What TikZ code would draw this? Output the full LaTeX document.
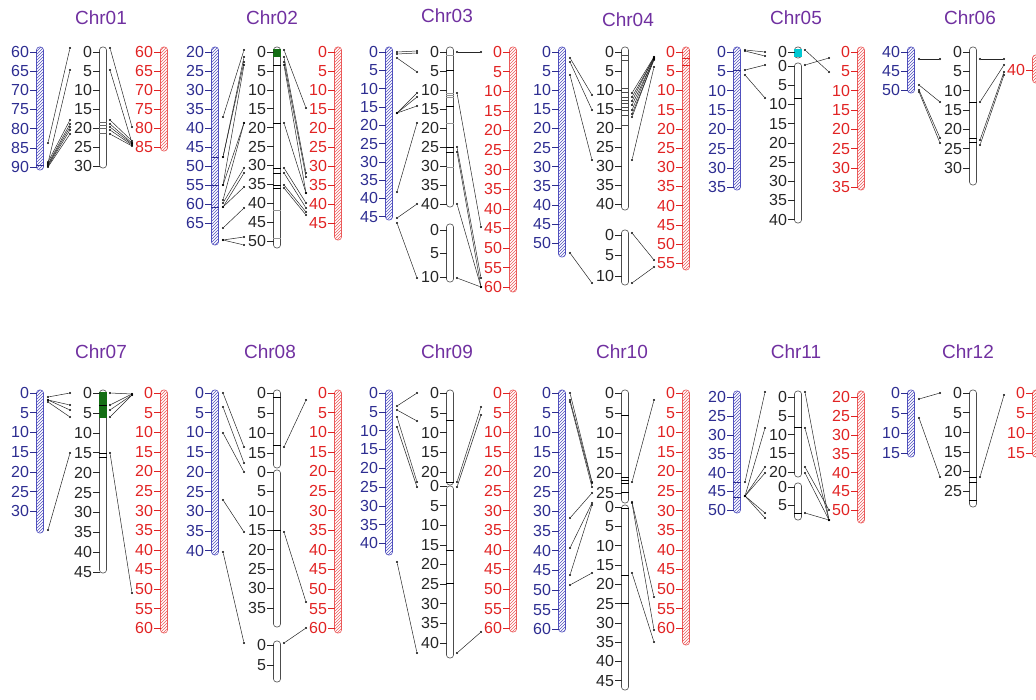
\documentclass[tikz,border=0pt]{standalone}
\usepackage{fontspec}
\setmainfont{Liberation Sans}
\usepackage{xcolor}
\usepackage{tikz}
\usetikzlibrary{patterns}
\definecolor{chrpurple}{RGB}{112,48,160}
\definecolor{mapblue}{RGB}{45,45,145}
\definecolor{hatchblue}{RGB}{80,80,190}
\definecolor{mapred}{RGB}{225,35,35}
\definecolor{hatchred}{RGB}{235,90,90}
\definecolor{bandgray}{RGB}{150,150,150}
\definecolor{cengreen}{RGB}{20,110,20}
\definecolor{cencyan}{RGB}{0,200,210}

\newcount\lnkno
% labels + ticks left of a bar: name, x, y of first label, first, last, px per 5
\newcommand\scalelabels[7]{%
  \pgfmathtruncatemacro\nlab{(#5-#4)/5}%
  \foreach \k in {0,...,\nlab}{%
    \pgfmathtruncatemacro\vlab{#4+5*\k}%
    \pgfmathsetmacro\ylab{#3+\k*#6}%
    \node[num, text=#7] (#1-\k) at (#2-10,\ylab) {\vlab};
    \draw[#7, line width=0.5pt] (#1-\k.east) -- (#2-3,\ylab);
  }}
% a bar: name, style, x, top, bottom
\newcommand\chrbar[5]{%
  \node[#2, minimum height={(#5-#4)*1pt}] (#1) at (#3,{(#4+#5)/2}) {};}
\newcommand\chrband[3][black]{%
  \draw[#1, line width=0.6pt] (#2.west |- 0,#3) -- (#2.east |- 0,#3);}
\newcommand\chrlink[4]{%
  \global\advance\lnkno by 1
  \node[dot] (d\the\lnkno a) at (#1,#2) {};
  \node[dot] (d\the\lnkno b) at (#3,#4) {};
  \draw[conn] (d\the\lnkno a) -- (d\the\lnkno b);}
\newcommand\lnkL[2]{\chrlink{\bx+8}{#1}{\mx-33}{#2}}
\newcommand\lnkR[2]{\chrlink{\mx+7}{#1}{\rx-32}{#2}}

\begin{document}
\begin{tikzpicture}[x=1pt, y=-1pt,
  num/.style={font=\fontsize{16}{16}\selectfont, anchor=east, inner sep=0.8pt},
  title/.style={font=\fontsize{19}{19}\selectfont, text=chrpurple},
  bluebar/.style={draw=hatchblue, pattern=north east lines, pattern color=hatchblue,
                  rounded corners=3pt, minimum width=7pt, inner sep=0pt, line width=0.6pt},
  redbar/.style={draw=hatchred, pattern=north east lines, pattern color=hatchred,
                 rounded corners=3pt, minimum width=7pt, inner sep=0pt, line width=0.6pt},
  midbar/.style={draw=black!70, fill=white, rounded corners=3pt,
                 minimum width=7pt, inner sep=0pt, line width=0.6pt},
  dot/.style={circle, fill=black, inner sep=0pt, minimum size=2.4pt},
  conn/.style={black!85, line width=0.5pt}
]
\useasboundingbox (0,0) rectangle (1036,700);
\clip (0,0) rectangle (1036,700);

% ---------- Chr01
\def\bx{40}\def\mx{103}\def\rx{164}
\node[title] (t1) at (101,18) {Chr01};
\chrbar{b1}{bluebar}{\bx}{47}{170}
\scalelabels{bl1}{\bx}{52}{60}{90}{19.17}{mapblue}
\chrband[mapblue]{b1}{165}
\chrbar{m1}{midbar}{\mx}{47}{168}
\scalelabels{ml1}{\mx}{52}{0}{30}{19}{black!85}
\foreach \y in {122,125,128,133} {\chrband[black!60]{m1}{\y}}
\chrbar{r1}{redbar}{\rx}{47}{151}
\scalelabels{rl1}{\rx}{52}{60}{85}{19}{mapred}
\lnkL{143}{48} \lnkL{163}{70} \lnkL{162}{120} \lnkL{164}{124}
\lnkL{165}{127} \lnkL{166}{130} \lnkL{167}{134}
\lnkR{48}{127} \lnkR{70}{143} \lnkR{120}{141} \lnkR{124}{143}
\lnkR{127}{144} \lnkR{130}{145} \lnkR{134}{146}

% ---------- Chr02
\def\bx{215}\def\mx{277}\def\rx{338}
\node[title] (t2) at (272,18) {Chr02};
\chrbar{b2}{bluebar}{\bx}{47}{245}
\scalelabels{bl2}{\bx}{52}{20}{65}{19}{mapblue}
\foreach \y in {157,185,207} {\chrband[mapblue]{b2}{\y}}
\chrbar{m2}{midbar}{\mx}{47}{248}
\fill[cengreen] (m2.west |- 0,49) rectangle (m2.east |- 0,57);
\scalelabels{ml2}{\mx}{52}{0}{50}{18.9}{black!85}
\foreach \y in {65,123,168,173,185,188} {\chrband{m2}{\y}}
\foreach \y in {210,238} {\chrband[bandgray]{m2}{\y}}
\chrbar{r2}{redbar}{\rx}{47}{240}
\scalelabels{rl2}{\rx}{52}{0}{45}{19}{mapred}
\lnkL{117}{50} \lnkL{157}{57} \lnkL{157}{62} \lnkL{185}{65}
\lnkL{185}{123} \lnkL{200}{123} \lnkL{203}{168} \lnkL{207}{173}
\lnkL{207}{187} \lnkL{228}{208} \lnkL{240}{237} \lnkL{240}{245}
\lnkR{50}{108} \lnkR{57}{173} \lnkR{62}{177} \lnkR{65}{193}
\lnkR{123}{193} \lnkR{168}{203} \lnkR{173}{208} \lnkR{185}{212}
\lnkR{188}{215}

% ---------- Chr03
\def\bx{389}\def\mx{450}\def\rx{513}
\node[title] (t3) at (447,16) {Chr03};
\chrbar{b3}{bluebar}{\bx}{47}{220}
\scalelabels{bl3}{\bx}{52}{0}{45}{18.3}{mapblue}
\chrbar{m3a}{midbar}{\mx}{47}{207}
\scalelabels{ml3a}{\mx}{52}{0}{40}{19}{black!85}
\foreach \y in {55,93,95,97,123,167} {\chrband[bandgray]{m3a}{\y}}
\foreach \y in {70,106,147,152} {\chrband{m3a}{\y}}
\chrbar{m3b}{midbar}{\mx}{224}{282}
\scalelabels{ml3b}{\mx}{230}{0}{10}{23.5}{black!85}
\chrbar{r3}{redbar}{\rx}{47}{292}
\scalelabels{rl3}{\rx}{52}{0}{60}{19.6}{mapred}
\lnkL{52}{51} \lnkL{54}{53} \lnkL{58}{72} \lnkL{113}{93}
\lnkL{113}{97} \lnkL{113}{106} \lnkL{192}{123} \lnkL{218}{204}
\lnkL{223}{278}
\lnkR{52}{52} \lnkR{93}{227} \lnkR{147}{278} \lnkR{152}{287}
\lnkR{204}{287} \lnkR{278}{287}

% ---------- Chr04
\def\bx{562}\def\mx{625}\def\rx{686}
\node[title] (t4) at (628,20) {Chr04};
\chrbar{b4}{bluebar}{\bx}{47}{257}
\scalelabels{bl4}{\bx}{52}{0}{50}{19.1}{mapblue}
\chrbar{m4a}{midbar}{\mx}{47}{210}
\scalelabels{ml4a}{\mx}{52}{0}{40}{19}{black!85}
\foreach \y in {55,60,88,92,97,100,103,107,110,115,125} {\chrband[black!70]{m4a}{\y}}
\chrbar{m4b}{midbar}{\mx}{230}{285}
\scalelabels{ml4b}{\mx}{235}{0}{10}{20.5}{black!85}
\chrbar{r4}{redbar}{\rx}{47}{270}
\scalelabels{rl4}{\rx}{52}{0}{55}{19.2}{mapred}
\foreach \y in {58,65} {\chrband[mapred]{r4}{\y}}
\lnkL{58}{95} \lnkL{62}{110} \lnkL{75}{160} \lnkL{253}{283}
\lnkR{93}{57} \lnkR{97}{58} \lnkR{101}{57} \lnkR{105}{59}
\lnkR{110}{58} \lnkR{114}{60} \lnkR{117}{59} \lnkR{160}{67}
\lnkR{233}{260} \lnkR{283}{267}

% ---------- Chr05
\def\bx{737}\def\mx{798}\def\rx{861}
\node[title] (t5) at (796,18) {Chr05};
\chrbar{b5}{bluebar}{\bx}{47}{190}
\scalelabels{bl5}{\bx}{52}{0}{35}{19.3}{mapblue}
\chrband[mapblue]{b5}{70}
\chrbar{m5a}{midbar}{\mx}{47}{58}
\fill[cencyan] (m5a.west |- 0,49) rectangle (m5a.east |- 0,57);
\scalelabels{ml5a}{\mx}{52}{0}{0}{19}{black!85}
\chrbar{m5b}{midbar}{\mx}{63}{223}
\scalelabels{ml5b}{\mx}{66}{0}{40}{19.2}{black!85}
\chrband{m5b}{98}
\chrbar{r5}{redbar}{\rx}{47}{190}
\scalelabels{rl5}{\rx}{52}{0}{35}{19.3}{mapred}
\lnkL{50}{52} \lnkL{51}{56} \lnkL{70}{65} \lnkL{75}{98}
\lnkR{50}{72} \lnkR{65}{58}

% ---------- Chr06
\def\bx{911}\def\mx{973}\def\rx{1036}
\node[title] (t6) at (970,18) {Chr06};
\chrbar{b6}{bluebar}{\bx}{47}{93}
\scalelabels{bl6}{\bx}{52}{40}{50}{19}{mapblue}
\chrbar{m6}{midbar}{\mx}{47}{185}
\scalelabels{ml6}{\mx}{52}{0}{30}{19.3}{black!85}
\foreach \y in {102,138,142} {\chrband{m6}{\y}}
\chrbar{r6}{redbar}{\rx}{55}{83}
\scalelabels{rl6}{\rx}{70}{40}{40}{19}{mapred}
\lnkL{59}{59} \lnkL{85}{102} \lnkL{90}{138} \lnkL{92}{143}
\lnkR{59}{59} \lnkR{102}{65} \lnkR{140}{72} \lnkR{145}{75}

% ---------- Chr07
\def\bx{40}\def\mx{103}\def\rx{164}
\node[title] (t7) at (101,352) {Chr07};
\chrbar{b7}{bluebar}{\bx}{390}{533}
\scalelabels{bl7}{\bx}{393}{0}{30}{19.7}{mapblue}
\chrbar{m7}{midbar}{\mx}{390}{573}
\fill[cengreen] (m7.west |- 0,392) rectangle (m7.east |- 0,418);
\scalelabels{ml7}{\mx}{393}{0}{45}{19.9}{black!85}
\foreach \y in {405,453,457} {\chrband{m7}{\y}}
\chrbar{r7}{redbar}{\rx}{390}{633}
\scalelabels{rl7}{\rx}{393}{0}{60}{19.6}{mapred}
\lnkL{397}{393} \lnkL{400}{405} \lnkL{400}{410} \lnkL{402}{417}
\lnkL{530}{453}
\lnkR{393}{394} \lnkR{405}{394} \lnkR{410}{395} \lnkR{417}{395}
\lnkR{453}{593}

% ---------- Chr08
\def\bx{215}\def\mx{277}\def\rx{338}
\node[title] (t8) at (270,352) {Chr08};
\chrbar{b8}{bluebar}{\bx}{390}{555}
\scalelabels{bl8}{\bx}{393}{0}{40}{19.7}{mapblue}
\chrbar{m8a}{midbar}{\mx}{390}{468}
\scalelabels{ml8a}{\mx}{393}{0}{15}{20}{black!85}
\foreach \y in {397,445} {\chrband{m8a}{\y}}
\chrbar{m8b}{midbar}{\mx}{470}{627}
\scalelabels{ml8b}{\mx}{472}{0}{35}{19.4}{black!85}
\chrband{m8b}{530}
\chrbar{m8c}{midbar}{\mx}{641}{682}
\scalelabels{ml8c}{\mx}{645}{0}{5}{20}{black!85}
\chrbar{r8}{redbar}{\rx}{390}{633}
\scalelabels{rl8}{\rx}{393}{0}{60}{19.6}{mapred}
\lnkL{393}{447} \lnkL{407}{463} \lnkL{433}{472} \lnkL{500}{532}
\lnkL{552}{643}
\lnkR{447}{400} \lnkR{532}{602} \lnkR{643}{628}

% ---------- Chr09
\def\bx{389}\def\mx{450}\def\rx{513}
\node[title] (t9) at (447,352) {Chr09};
\chrbar{b9}{bluebar}{\bx}{390}{555}
\scalelabels{bl9}{\bx}{393}{0}{40}{18.8}{mapblue}
\chrbar{m9a}{midbar}{\mx}{390}{485}
\scalelabels{ml9a}{\mx}{393}{0}{20}{19.75}{black!85}
\foreach \y in {420,482} {\chrband{m9a}{\y}}
\chrbar{m9b}{midbar}{\mx}{486}{658}
\scalelabels{ml9b}{\mx}{486}{0}{40}{19.6}{black!85}
\foreach \y in {550,583} {\chrband{m9b}{\y}}
\chrbar{r9}{redbar}{\rx}{390}{632}
\scalelabels{rl9}{\rx}{393}{0}{60}{19.6}{mapred}
\lnkL{406}{393} \lnkL{410}{421} \lnkL{417}{482} \lnkL{427}{487}
\lnkL{562}{653}
\lnkR{482}{407} \lnkR{487}{415} \lnkR{653}{632}

% ---------- Chr10
\def\bx{562}\def\mx{625}\def\rx{686}
\node[title] (t10) at (622,352) {Chr10};
\chrbar{b10}{bluebar}{\bx}{390}{632}
\scalelabels{bl10}{\bx}{393}{0}{60}{19.7}{mapblue}
\chrbar{m10a}{midbar}{\mx}{390}{503}
\scalelabels{ml10a}{\mx}{393}{0}{25}{20}{black!85}
\foreach \y in {415,477,480,483,492} {\chrband{m10a}{\y}}
\chrbar{m10b}{midbar}{\mx}{505}{690}
\scalelabels{ml10b}{\mx}{507}{0}{45}{19.3}{black!85}
\foreach \y in {508,575,603} {\chrband{m10b}{\y}}
\chrbar{r10}{redbar}{\rx}{390}{645}
\scalelabels{rl10}{\rx}{393}{0}{60}{19.6}{mapred}
\lnkL{393}{482} \lnkL{400}{483} \lnkL{402}{487} \lnkL{518}{493}
\lnkL{548}{503} \lnkL{575}{505} \lnkL{585}{573}
\lnkR{482}{400} \lnkR{502}{597} \lnkR{503}{630} \lnkR{573}{642}

% ---------- Chr11
\def\bx{737}\def\mx{798}\def\rx{861}
\node[title] (t11) at (796,352) {Chr11};
\chrbar{b11}{bluebar}{\bx}{391}{513}
\scalelabels{bl11}{\bx}{397}{20}{50}{18.9}{mapblue}
\foreach \y in {482,497} {\chrband[mapblue]{b11}{\y}}
\chrbar{m11a}{midbar}{\mx}{391}{477}
\scalelabels{ml11a}{\mx}{397}{0}{20}{18.8}{black!85}
\chrband{m11a}{427}
\chrbar{m11b}{midbar}{\mx}{483}{520}
\scalelabels{ml11b}{\mx}{487}{0}{5}{18}{black!85}
\chrband{m11b}{513}
\chrbar{r11}{redbar}{\rx}{391}{523}
\scalelabels{rl11}{\rx}{397}{20}{50}{18.9}{mapred}
\lnkL{482}{392} \lnkL{496}{428} \lnkL{496}{467} \lnkL{496}{473}
\lnkL{496}{513} \lnkL{496}{518}
\lnkR{392}{520} \lnkR{428}{520} \lnkR{467}{510} \lnkR{473}{520}
\lnkR{513}{520}

% ---------- Chr12
\def\bx{911}\def\mx{973}\def\rx{1036}
\node[title] (t12) at (968,352) {Chr12};
\chrbar{b12}{bluebar}{\bx}{390}{457}
\scalelabels{bl12}{\bx}{393}{0}{15}{20}{mapblue}
\chrbar{m12}{midbar}{\mx}{390}{507}
\scalelabels{ml12}{\mx}{393}{0}{25}{19.6}{black!85}
\foreach \y in {477,482,500} {\chrband{m12}{\y}}
\chrbar{r12}{redbar}{\rx}{390}{457}
\scalelabels{rl12}{\rx}{393}{0}{15}{20}{mapred}
\lnkL{399}{393} \lnkL{418}{477}
\lnkR{477}{395}
\end{tikzpicture}
\end{document}
